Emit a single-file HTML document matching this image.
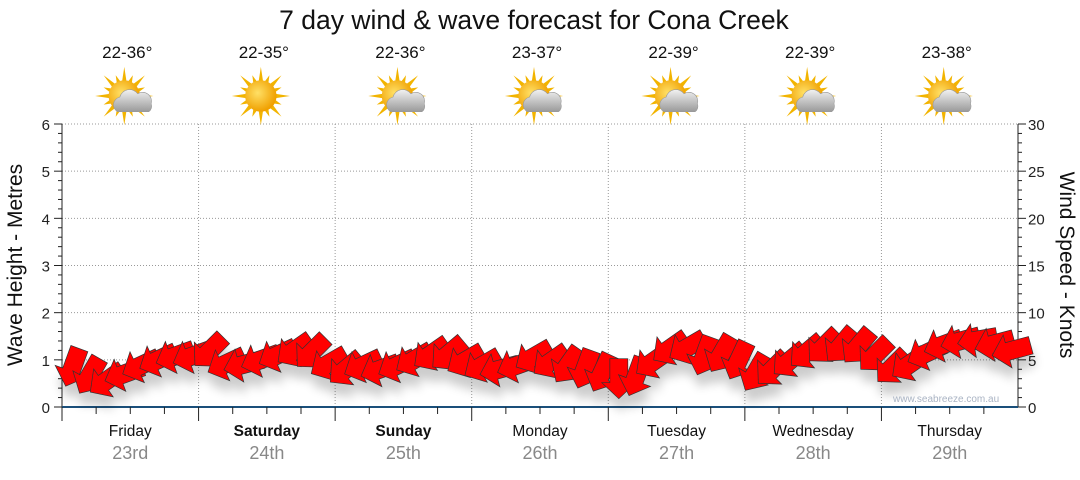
<!DOCTYPE html>
<html><head><meta charset="utf-8"><style>
body{margin:0;background:#fff;width:1080px;height:475px;overflow:hidden;font-family:"Liberation Sans",sans-serif}
</style></head><body>
<svg id="c" width="1080" height="475" xmlns="http://www.w3.org/2000/svg">
<defs>
<filter id="sh" x="-50%" y="-50%" width="200%" height="200%"><feGaussianBlur in="SourceAlpha" stdDeviation="5"/><feOffset dx="2" dy="12"/><feComponentTransfer><feFuncA type="linear" slope="0.2"/></feComponentTransfer><feMerge><feMergeNode/><feMergeNode in="SourceGraphic"/></feMerge></filter>
<radialGradient id="sun" cx="0.4" cy="0.4" r="0.6"><stop offset="0" stop-color="#ffe066"/><stop offset="1" stop-color="#f0a000"/></radialGradient>
<linearGradient id="cl" x1="0" y1="0" x2="0" y2="1"><stop offset="0" stop-color="#f2f2f2"/><stop offset="1" stop-color="#9a9a9a"/></linearGradient>
</defs>
<text x="534" y="29" font-size="26.5" text-anchor="middle" fill="#111">7 day wind &amp; wave forecast for Cona Creek</text>
<g id="grid"></g><g id="axes"></g><g id="icons"></g><g id="arrows" filter="url(#sh)"></g>
<text x="893" y="402" font-size="10" fill="#aab4c4">www.seabreeze.com.au</text>
<text transform="translate(22,265) rotate(-90)" font-size="21" text-anchor="middle" fill="#111">Wave Height - Metres</text>
<text transform="translate(1060,265) rotate(90)" font-size="21" text-anchor="middle" fill="#111">Wind Speed - Knots</text>
</svg>
<script>
const days=["Friday","Saturday","Sunday","Monday","Tuesday","Wednesday","Thursday"];
const dates=["23rd","24th","25th","26th","27th","28th","29th"];
const boldDays=[false,true,true,false,false,false,false];
const temps=["22-36°","22-35°","22-36°","23-37°","22-39°","22-39°","23-38°"];
const cloudy=[true,false,true,true,true,true,true];
const waveTicks=[0,1,2,3,4,5,6];
const windTicks=[0,5,10,15,20,25,30];
const windKnots=[4.2,3.3,2.8,3.5,4.4,5,5.4,5.4, 5.9,4.6,4.5,5,5.5,6,5.8,4.6, 4,4.4,4,4.4,5,5.6,5.6,4.9, 4.4,4,4.4,5.3,4.8,4.4,4,3.6, 3,3.2,4.8,6.2,6.3,5.4,5.6,4.9, 3.6,4,4.9,5.8,6.4,6.5,6.4,5.5, 4.2,4.5,5.7,6.6,7,7.1,6.7,6];
const windDir=[200,210,235,250,245,245,250,250, 225,245,255,250,245,235,225,240, 230,245,250,245,240,235,230,240, 240,255,250,240,235,215,200,205, 180,200,235,235,240,200,210,205, 210,225,230,230,225,220,220,225, 225,235,245,250,255,260,255,255];
const X0=62,X1=1018,Y0=407,Y6=124;
const xDay=i=>X0+i*(X1-X0)/7;
const yWave=v=>Y0-v*(Y0-Y6)/6;
const yWind=k=>Y0-k*(Y0-Y6)/30;
const NS="http://www.w3.org/2000/svg";
function mk(p,t,a){const e=document.createElementNS(NS,t);for(const k in a)e.setAttribute(k,a[k]);p.appendChild(e);return e;}
const G=document.getElementById('grid'),A=document.getElementById('axes'),I=document.getElementById('icons'),R=document.getElementById('arrows');
waveTicks.forEach(v=>{if(v>0){const l=mk(G,'line',{x1:X0,x2:X1,y1:yWave(v),y2:yWave(v),stroke:'#999','stroke-dasharray':'1,2'});

}
const t=mk(A,'text',{x:50,y:yWave(v)+6,'font-size':15,'text-anchor':'end',fill:'#222'});t.textContent=v;


for(let m=1;m<5&&v<6;m++){mk(A,'line',{x1:X0-4,x2:X0,y1:yWave(v+m/5),y2:yWave(v+m/5),stroke:'#222'});mk(A,'line',{x1:X1,x2:X1+4,y1:yWave(v+m/5),y2:yWave(v+m/5),stroke:'#222'});}
mk(A,'line',{x1:X0-8,x2:X0,y1:yWave(v),y2:yWave(v),stroke:'#222'});mk(A,'line',{x1:X1,x2:X1+8,y1:yWave(v),y2:yWave(v),stroke:'#222'});});
windTicks.forEach(k=>{const t=mk(A,'text',{x:1028,y:yWind(k)+6,'font-size':15,fill:'#222'});t.textContent=k;

});
mk(A,'line',{x1:X0,x2:X0,y1:Y6,y2:Y0,stroke:'#222'});mk(A,'line',{x1:X1,x2:X1,y1:Y6,y2:Y0,stroke:'#222'});
mk(A,'line',{x1:X0,x2:X1,y1:Y0,y2:Y0,stroke:'#1a4f7a','stroke-width':2});
days.forEach((d,i)=>{const x=xDay(i),cx=x+(X1-X0)/14;
if(i>0){const l=mk(G,'line',{x1:x,x2:x,y1:Y6,y2:Y0,stroke:'#999','stroke-dasharray':'1,2'});

}
mk(A,'line',{x1:x,x2:x,y1:Y0,y2:Y0+14,stroke:'#222'});
for(let h=1;h<4;h++)mk(A,'line',{x1:x+h*(X1-X0)/28,x2:x+h*(X1-X0)/28,y1:Y0,y2:Y0+7,stroke:'#222'});
const t=mk(A,'text',{x:cx,y:436,'font-size':15.5,'text-anchor':'middle',fill:'#111','font-weight':boldDays[i]?'bold':'normal'});t.textContent=d;


const t2=mk(A,'text',{x:cx,y:459,'font-size':18,'text-anchor':'middle',fill:'#888'});t2.textContent=dates[i];


const t3=mk(I,'text',{x:cx-3,y:58,'font-size':17,'text-anchor':'middle',fill:'#111'});t3.textContent=temps[i];


const g=mk(I,'g',{transform:`translate(${cx-6},96) scale(1.12)`});


for(let r=0;r<16;r++){const a=r*Math.PI/8,L=r%2?20:26;mk(g,'polygon',{points:`${Math.cos(a)*L},${Math.sin(a)*L} ${Math.cos(a+0.18)*12},${Math.sin(a+0.18)*12} ${Math.cos(a-0.18)*12},${Math.sin(a-0.18)*12}`,fill:'#f2b400'});}
mk(g,'circle',{r:14,fill:'url(#sun)'});
if(cloudy[i]){mk(g,'path',{d:'M-6,14 a7,7 0 0 1 2,-13 a9,9 0 0 1 16,-3 a8,8 0 0 1 12,9 a6,6 0 0 1 -2,7 z',fill:'url(#cl)',stroke:'#999','stroke-width':0.5});}
});
const n=windKnots.length,step=(X1-X0)/n;
windKnots.forEach((k,i)=>{const x=X0+step*(i+0.5)+2,y=yWind(k);
const p=mk(R,'polygon',{points:'-9,-20 9,-20 9,4 17,4 0,20 -17,4 -9,4',fill:'#ff0000',stroke:'#333','stroke-width':0.7,transform:`translate(${x},${y}) rotate(${windDir[i]-180})`});

});
</script>
</body></html>
